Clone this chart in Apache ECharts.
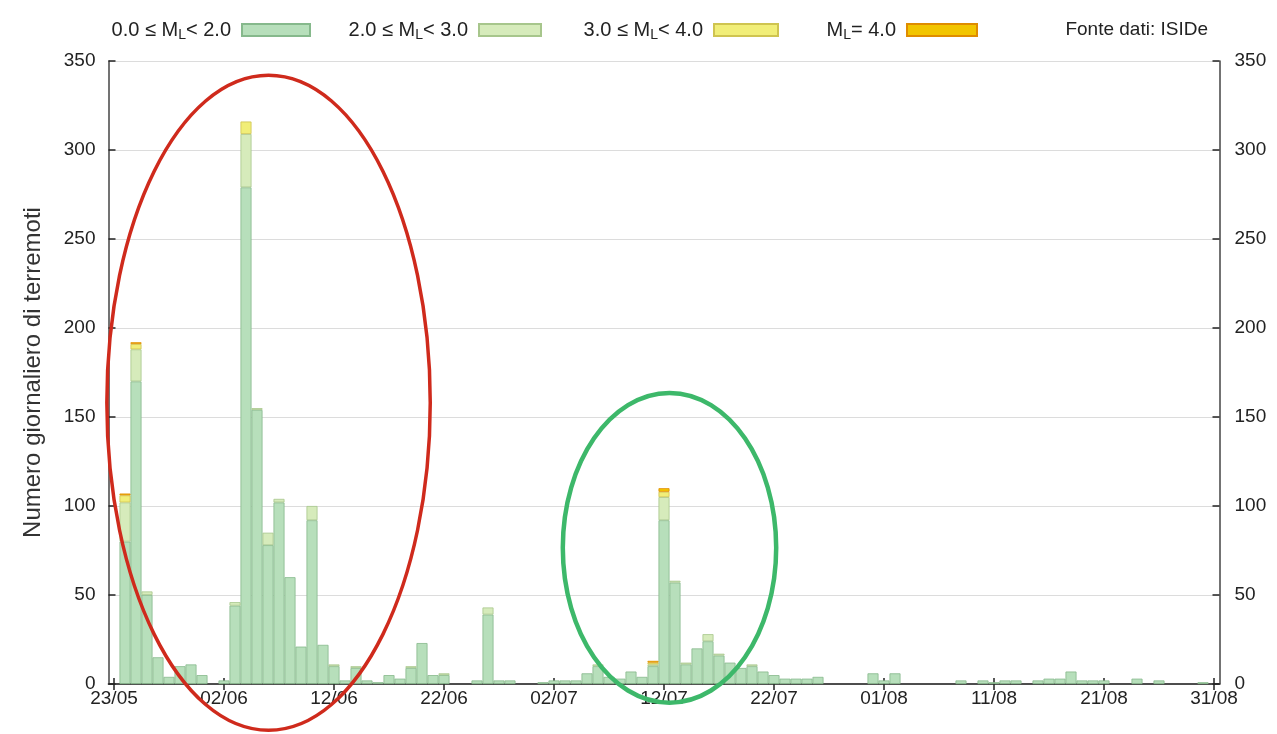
<!DOCTYPE html>
<html>
<head>
<meta charset="utf-8">
<script src="https://cdn.jsdelivr.net/npm/echarts@6/dist/echarts.min.js"></script>
<style>
html,body{margin:0;padding:0;background:#fff;}
#chart{width:1277px;height:734px;}
</style>
</head>
<body>
<div id="chart"></div>
<script>
// Daily counts, day 0 = 23/05 ... day 100 = 31/08
const startDate = [2016, 4, 23]; // year, monthIndex, day
const nDays = 101;
const tickLabels = ['23/05','02/06','12/06','22/06','02/07','12/07','22/07','01/08','11/08','21/08','31/08'];
const seriesNames = ['0.0 ≤ M{s|L}< 2.0', '2.0 ≤ M{s|L}< 3.0', '3.0 ≤ M{s|L}< 4.0', 'M{s|L}= 4.0'];

const m02 = [0,80,170,50,15,4,10,11,5,0,2,44,279,154,78,102,60,21,92,22,
  10,2,9,2,1,5,3,9,23,5,5,0,0,2,39,2,2,0,0,1,
  2,2,2,6,10,4,3,7,4,10,92,57,11,20,24,16,12,9,10,7,
  5,3,3,3,4,0,0,0,0,6,2,6,0,0,0,0,0,2,0,2,
  1,2,2,0,2,3,3,7,2,2,2,0,0,3,0,2,0,0,0,1,0];
const m23 = [0,22,18,2,0,0,0,0,0,0,0,2,30,1,7,2,0,0,8,0,
  1,0,1,0,0,0,0,1,0,0,1,0,0,0,4,0,0,0,0,0,
  0,0,0,0,1,0,0,0,0,1,13,1,1,0,4,1,0,0,1,0,
  0,0,0,0,0,0,0,0,0,0,0,0,0,0,0,0,0,0,0,0,
  0,0,0,0,0,0,0,0,0,0,0,0,0,0,0,0,0,0,0,0,0];
const m34 = [0,4,3,0,0,0,0,0,0,0,0,0,7,0,0,0,0,0,0,0,
  0,0,0,0,0,0,0,0,0,0,0,0,0,0,0,0,0,0,0,0,
  0,0,0,0,0,0,0,0,0,1,3,0,0,0,0,0,0,0,0,0,
  0,0,0,0,0,0,0,0,0,0,0,0,0,0,0,0,0,0,0,0,
  0,0,0,0,0,0,0,0,0,0,0,0,0,0,0,0,0,0,0,0,0];
const m4 = [0,1,1,0,0,0,0,0,0,0,0,0,0,0,0,0,0,0,0,0,
  0,0,0,0,0,0,0,0,0,0,0,0,0,0,0,0,0,0,0,0,
  0,0,0,0,0,0,0,0,0,1,2,0,0,0,0,0,0,0,0,0,
  0,0,0,0,0,0,0,0,0,0,0,0,0,0,0,0,0,0,0,0,
  0,0,0,0,0,0,0,0,0,0,0,0,0,0,0,0,0,0,0,0,0];

// annotation ellipses in data units: [centerDay, centerValue, radiusDays, radiusValue]
const redEllipse = [14.05, 158, 14.7, 184];
const greenEllipse = [50.5, 76.5, 9.7, 87];

const categories = [];
for (let i = 0; i < nDays; i++) {
  const d = new Date(startDate[0], startDate[1], startDate[2] + i);
  categories.push(String(d.getDate()).padStart(2,'0') + '/' + String(d.getMonth()+1).padStart(2,'0'));
}

const FONT = 'Liberation Sans, Arial, sans-serif';
const colors = ['#b7dfbb', '#d6ebbb', '#f1ee78', '#f2c500'];
const borders = ['#86b98c', '#a7c68c', '#cfc450', '#df8c00'];
const allData = [m02, m23, m34, m4];

const chart = echarts.init(document.getElementById('chart'), null, {renderer: 'canvas'});

const rich = {
  s: {fontSize: 14, fontFamily: FONT, color: '#222', padding: [10, 0, 0, 0]}
};
// right edges of legend swatches
const legendPos = [
  {right: 1277 - 316, w: 68},
  {right: 1277 - 547, w: 62},
  {right: 1277 - 784, w: 64},
  {right: 1277 - 983, w: 70}
];

const option = {
  animation: false,
  backgroundColor: '#fff',
  textStyle: {fontFamily: FONT},
  title: {
    text: 'Fonte dati: ISIDe',
    right: 64, top: 15,
    textStyle: {fontSize: 19, fontWeight: 'normal', color: '#222', fontFamily: FONT}
  },
  legend: seriesNames.map((n, i) => ({
    data: [n],
    right: legendPos[i].right,
    top: 15,
    align: 'right',
    itemWidth: legendPos[i].w,
    itemHeight: 12,
    icon: 'rect',
    selectedMode: false,
    textStyle: {fontSize: 20, color: '#222', fontFamily: FONT, rich: rich, padding: [0, 6, 0, 0]}
  })),
  grid: {left: 108.5, right: 57.5, top: 61, bottom: 50, containLabel: false},
  xAxis: [
    {
      type: 'category', data: categories, position: 'bottom',
      boundaryGap: true,
      axisLine: {show: true, lineStyle: {color: '#444', width: 1.5}},
      axisTick: {show: true, inside: true, length: 6, interval: 9, alignWithLabel: true, lineStyle: {color: '#222', width: 1.5}},
      axisLabel: {interval: 9, fontSize: 19, color: '#222', margin: 5, fontFamily: FONT,
        formatter: (v, idx) => tickLabels[idx / 10] !== undefined ? tickLabels[idx / 10] : v},
      splitLine: {show: false}
    },
    {
      type: 'category', data: categories, position: 'top',
      boundaryGap: true,
      axisLine: {show: true, lineStyle: {color: '#444', width: 1.5}},
      axisTick: {show: true, inside: true, length: 6, interval: 9, alignWithLabel: true, lineStyle: {color: '#222', width: 1.5}},
      axisLabel: {show: false},
      splitLine: {show: false}
    }
  ],
  yAxis: [
    {
      type: 'value', min: 0, max: 350, interval: 50, position: 'left',
      name: 'Numero giornaliero di terremoti', nameLocation: 'middle', nameGap: 63,
      nameTextStyle: {fontSize: 24, color: '#333', fontFamily: FONT},
      axisLine: {show: true, lineStyle: {color: '#444', width: 1.5}},
      axisTick: {show: true, inside: true, length: 7, lineStyle: {color: '#222', width: 1.5}},
      axisLabel: {fontSize: 19, color: '#222', margin: 13, fontFamily: FONT},
      splitLine: {show: true, lineStyle: {color: '#dcdcdc', width: 1.2}}
    },
    {
      type: 'value', min: 0, max: 350, interval: 50, position: 'right',
      axisLine: {show: true, lineStyle: {color: '#444', width: 1.5}},
      axisTick: {show: true, inside: true, length: 7, lineStyle: {color: '#222', width: 1.5}},
      axisLabel: {fontSize: 19, color: '#222', margin: 15, fontFamily: FONT},
      splitLine: {show: false}
    }
  ],
  series: seriesNames.map((n, i) => ({
    name: n,
    type: 'bar',
    stack: 'total',
    xAxisIndex: 0, yAxisIndex: 0,
    barCategoryGap: '0%',
    barWidth: '100%',
    data: allData[i].map(v => (v === 0 ? '-' : v)),
    itemStyle: {color: colors[i], borderColor: borders[i], borderWidth: 0.8},
    emphasis: {disabled: true},
    silent: true
  }))
};
chart.setOption(option);

function ellipseGraphic(e, color, width) {
  const p0 = chart.convertToPixel({gridIndex: 0}, [0, 0]);
  const p1 = chart.convertToPixel({gridIndex: 0}, [1, 1]);
  const dx = p1[0] - p0[0];
  const dy = p0[1] - p1[1];
  return {
    type: 'ellipse', silent: true, z: 100,
    shape: {cx: p0[0] + e[0] * dx, cy: p0[1] - e[1] * dy, rx: e[2] * dx, ry: e[3] * dy},
    style: {fill: 'none', stroke: color, lineWidth: width}
  };
}
chart.setOption({
  graphic: [
    ellipseGraphic(redEllipse, '#cf2a1c', 3.5),
    ellipseGraphic(greenEllipse, '#3db86a', 4.5)
  ]
});
</script>
</body>
</html>
